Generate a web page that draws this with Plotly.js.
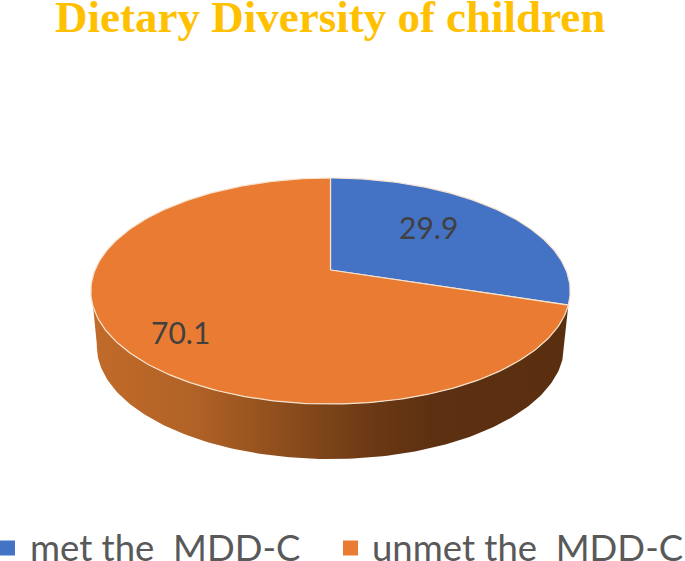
<!DOCTYPE html>
<html><head><meta charset="utf-8">
<script src="https://cdn.plot.ly/plotly-3.0.0.min.js"></script>
<style>html,body{margin:0;padding:0;background:#fff;overflow:hidden}</style>
</head><body><div id="chart" style="width:685px;height:561px"></div>
<script>
const titleText = 'Dietary Diversity of children';
const categories = ['met the  MDD-C', 'unmet the  MDD-C'];
const values = [29.9, 70.1];
const colors = ['#4472C4', '#E97C32'];
const wallStops = [[0,'#C26B2A'],[0.22,'#B06226'],[0.45,'#84481A'],[0.6,'#6A3814'],[0.72,'#5C3010'],[1,'#5A2F10']];

// tilted-disc projection of the pie (perspective view)
const cx=330.5, cy=270, rx=235.5, ry=109.1, k=-0.186, depth=55, wallScale=0.975;
function project(deg){
  const t=deg*Math.PI/180, u=Math.sin(t), v=-Math.cos(t), d=1+k*v;
  return [cx+rx*u/d, cy+ry*v/d];
}
function arc(a,b){ const p=[]; const n=Math.max(2,Math.ceil(Math.abs(b-a)));
  for(let i=0;i<=n;i++) p.push(project(a+(b-a)*i/n)); return p; }
const total=values.reduce((s,v)=>s+v,0);
const traces=[];
const end0=values[0]/total*360;

// side wall, below the first slice's end round to the left edge
const front=arc(end0,262);
const back=front.map(p=>[cx+(p[0]-cx)*wallScale,p[1]+depth]).reverse();
const wall=front.concat(back);
traces.push({type:'scatter',mode:'lines',x:wall.map(p=>p[0]),y:wall.map(p=>p[1]),fill:'toself',
  line:{width:0,color:'rgba(0,0,0,0)'},fillgradient:{type:'horizontal',colorscale:wallStops},
  hoverinfo:'skip',showlegend:false});

// top faces
let start=0;
values.forEach((v,i)=>{
  const sweep=v/total*360;
  const pts=[[cx,cy]].concat(arc(start,start+sweep));pts.push([cx,cy]);
  traces.push({type:'scatter',mode:'lines',x:pts.map(p=>p[0]),y:pts.map(p=>p[1]),fill:'toself',
    fillcolor:colors[i],line:{color:'#F6E3CF',width:1.2},hoverinfo:'skip',showlegend:false});
  start+=sweep;
});

// legend keys and labels
const keyX=[7.5,350.5], labelX=[30,372], legendY=548;
traces.push({type:'scatter',mode:'markers',x:keyX,y:[legendY,legendY],
  marker:{symbol:'square',size:15,color:colors},hoverinfo:'skip',showlegend:false,cliponaxis:false});

const valueFont={family:'Lato',size:30,color:'#404040'};
const layout={
  width:685,height:561,margin:{l:0,r:0,t:0,b:0},paper_bgcolor:'#fff',plot_bgcolor:'#fff',showlegend:false,
  xaxis:{range:[0,685],visible:false,fixedrange:true},
  yaxis:{range:[561,0],visible:false,fixedrange:true},
  title:{text:'<b>'+titleText+'</b>',font:{family:'Liberation Serif',size:45,color:'#FFC000'},
    x:0.482,xanchor:'center',y:1,yanchor:'top',pad:{t:0}},
  annotations:[
    {x:428,y:227,xref:'x',yref:'y',text:String(values[0]),showarrow:false,font:valueFont},
    {x:180,y:332,xref:'x',yref:'y',text:String(values[1]),showarrow:false,font:valueFont}
  ].concat(categories.map((c,i)=>({x:labelX[i],y:legendY-1,xref:'x',yref:'y',xanchor:'left',text:c,showarrow:false,
    font:{family:'Lato',size:36.5,color:'#595959'},xshift:-2})))
};
Plotly.newPlot('chart',traces,layout,{displayModeBar:false,staticPlot:true});
</script></body></html>
